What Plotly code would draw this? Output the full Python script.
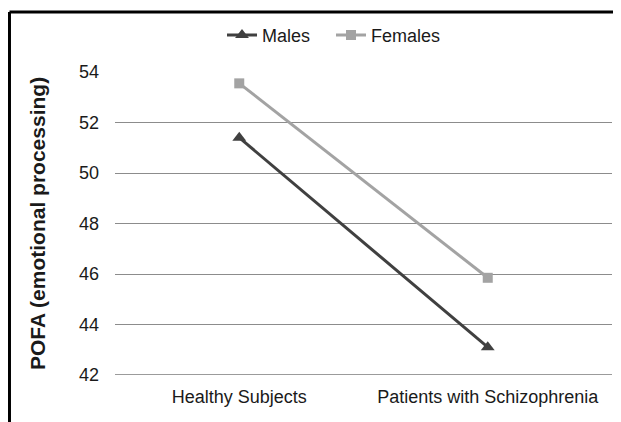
import plotly.graph_objects as go

categories = ["Healthy Subjects", "Patients with Schizophrenia"]
males = [51.4, 43.1]
females = [53.55, 45.85]
y_ticks = [42, 44, 46, 48, 50, 52, 54]

fig = go.Figure()
fig.add_trace(go.Scatter(
    x=categories, y=males, name="Males", mode="lines+markers",
    line=dict(color="#404040", width=3),
    marker=dict(symbol="triangle-up", size=12, color="#404040"),
))
fig.add_trace(go.Scatter(
    x=categories, y=females, name="Females", mode="lines+markers",
    line=dict(color="#a3a3a3", width=3),
    marker=dict(symbol="square", size=10, color="#a3a3a3"),
))
# empty spacer entry so the last legend label is not clipped by the fixed entry width
fig.add_trace(go.Scatter(
    x=[None], y=[None], name=" ", mode="lines", hoverinfo="skip",
    line=dict(color="rgba(255,255,255,0)", width=0), showlegend=True,
))

font = "Liberation Sans, Arial, sans-serif"
# page body has an 8px margin; figure is sized to fill the rest of the window
fig.update_layout(
    width=613, height=414,
    margin=dict(l=107, r=9, t=61, b=47),
    paper_bgcolor="white", plot_bgcolor="white",
    font=dict(family=font, size=18, color="#1a1a1a"),
    showlegend=True,
    legend=dict(orientation="h", x=0.2153, xanchor="left", y=1.121, yanchor="middle",
                font=dict(size=18), traceorder="normal",
                entrywidth=64, entrywidthmode="pixels"),
    xaxis=dict(type="category", range=[-0.5, 1.5], showgrid=False, showline=False,
               ticks="", tickfont=dict(size=18), zeroline=False, ticklabelstandoff=9),
    yaxis=dict(range=[42, 54], tickvals=y_ticks, showgrid=True, gridcolor="#8c8c8c",
               gridwidth=1.2, zeroline=False, showline=False, ticks="",
               ticklabelstandoff=15, tickfont=dict(size=18),
               title=dict(text="<b>POFA (emotional processing)</b>", font=dict(size=21),
                          standoff=27)),
    shapes=[
        dict(type="line", xref="paper", yref="paper", x0=-0.2123, x1=1.02,
             y0=1.1977, y1=1.1977, line=dict(color="black", width=3)),
        dict(type="line", xref="paper", yref="paper", x0=-0.2123, x1=-0.2123,
             y0=1.1977, y1=-0.16, line=dict(color="black", width=3)),
        dict(type="line", xref="paper", yref="y", x0=0, x1=1, y0=42, y1=42,
             line=dict(color="#7a7a7a", width=1.5), layer="below"),
    ],
)
fig.write_html("out.html")
